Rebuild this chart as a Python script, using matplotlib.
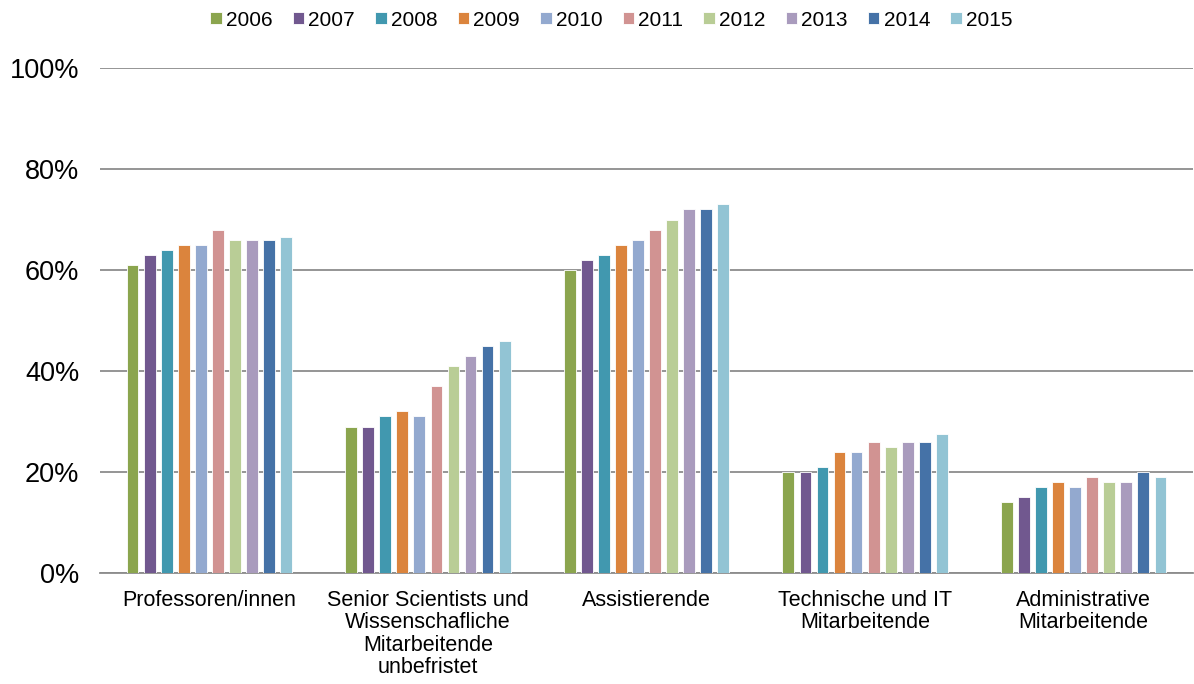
import numpy as np
import matplotlib
matplotlib.use("Agg")
import matplotlib.pyplot as plt

plt.rcParams['font.family'] = ['Liberation Sans', 'DejaVu Sans']

categories = ["Professoren/innen",
              "Senior Scientists und\nWissenschafliche\nMitarbeitende\nunbefristet",
              "Assistierende",
              "Technische und IT\nMitarbeitende",
              "Administrative\nMitarbeitende"]
years = ["2006", "2007", "2008", "2009", "2010", "2011", "2012", "2013", "2014", "2015"]

# percent share per category, one list per year
v2006 = [61, 29, 60, 20, 14]
v2007 = [63, 29, 62, 20, 15]
v2008 = [64, 31, 63, 21, 17]
v2009 = [65, 32, 65, 24, 18]
v2010 = [65, 31, 66, 24, 17]
v2011 = [68, 37, 68, 26, 19]
v2012 = [66, 41, 70, 25, 18]
v2013 = [66, 43, 72, 26, 18]
v2014 = [66, 45, 72, 26, 20]
v2015 = [66.5, 46, 73, 27.5, 19]
series = [v2006, v2007, v2008, v2009, v2010, v2011, v2012, v2013, v2014, v2015]

colors = ["#8BA54E", "#71588F", "#4198AF", "#DB843D", "#93A9CF",
          "#D19392", "#B9CD96", "#A99BBD", "#4572A7", "#92C4D4"]

fig = plt.figure(figsize=(11.94, 6.84), dpi=100)
ax = fig.add_axes([100/1194, 1 - 573/684, 1093/1194, 505/684])

x = np.arange(len(categories))
pitch = 0.078
width = 0.054
for i, vals in enumerate(series):
    ax.bar(x + (i - 4.5) * pitch, vals, width, color=colors[i],
           edgecolor="white", linewidth=0.6, label=years[i], zorder=3)

ax.set_xlim(-0.5, len(categories) - 0.5)
ax.set_ylim(0, 100)
ax.set_yticks([0, 20, 40, 60, 80, 100])
ax.set_yticklabels(["0%", "20%", "40%", "60%", "80%", "100%"], fontsize=19.5)
ax.yaxis.grid(True, color="#8C8C8C", linewidth=1.3, zorder=0)
ax.tick_params(axis="y", length=0, pad=15)
ax.set_xticks(x)
ax.set_xticklabels(categories, fontsize=15.5, linespacing=1.1)
ax.tick_params(axis="x", length=0, pad=12)
for s in ["top", "right", "left"]:
    ax.spines[s].set_visible(False)
ax.spines["bottom"].set_color("#8C8C8C")
ax.spines["bottom"].set_linewidth(1.3)

fig.legend(loc="upper center", bbox_to_anchor=(0.512, 1.012), ncol=10, frameon=False,
           fontsize=15, handlelength=0.55, handleheight=0.55, handletextpad=0.2,
           columnspacing=0.97)

fig.savefig("out.png", dpi=100)
